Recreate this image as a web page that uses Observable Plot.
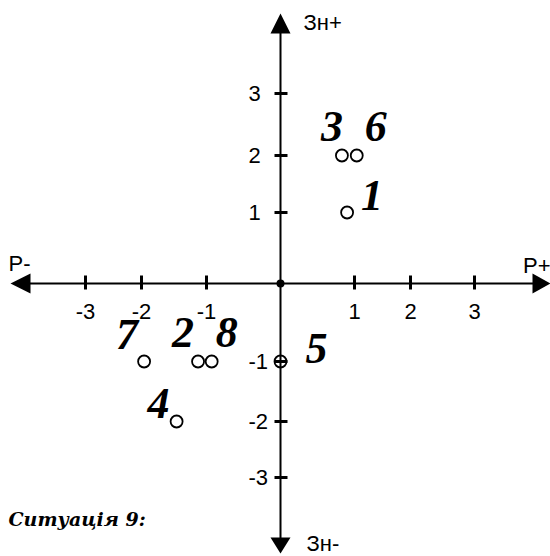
<!DOCTYPE html>
<html>
<head>
<meta charset="utf-8">
<script src="https://cdn.jsdelivr.net/npm/d3@7"></script>
<script src="https://cdn.jsdelivr.net/npm/@observablehq/plot@0.6"></script>
<style>
  html, body { margin: 0; padding: 0; background: #fff; }
  #chart svg { display: block; }
</style>
</head>
<body>
<div id="chart"></div>
<script>
// ---- data ----
const pointIds = ["1", "2", "3", "4", "5", "6", "7", "8"];
const pointX   = [0.90, -1.13, 0.83, -1.46, 0, 1.04, -1.96, -0.93];
const pointY   = [1, -1, 2, -2, -1, 2, -1, -1];

const tickValues = [-3, -2, -1, 1, 2, 3];
const tickLabels = ["-3", "-2", "-1", "1", "2", "3"];

const axisNames = { xNeg: "P-", xPos: "P+", yPos: "Зн+", yNeg: "Зн-" };
const caption = "Ситуація 9:";

// ---- layout (not data): the hand-drawn axes have slightly uneven unit spacing ----
const scaleDomain = [-3, -2, -1, 0, 1, 2, 3];
const xRange = [85, 141, 206, 280, 354, 410, 474];
const yRange = [477, 421, 361, 283, 212, 155, 93];
const warp = (rangePx) => {
  const a = rangePx[0], b = rangePx[rangePx.length - 1];
  return d3.scaleLinear().domain(scaleDomain).range(rangePx.map(p => -3 + 6 * (p - a) / (b - a)));
};
const warpX = warp(xRange), warpY = warp(yRange);

const labelOffsets = {
  "1": [25, -17], "2": [-15, -29], "3": [-10, -29], "4": [-18, -18],
  "5": [36, -13], "6": [19, -29], "7": [-17, -27], "8": [15, -29]
};

const points = pointIds.map((id, i) => ({id, x: pointX[i], y: pointY[i]}));
const ticks = tickValues.map((v, i) => ({v, label: tickLabels[i]}));

const sym = (f) => ({draw(ctx) { f(ctx); }});
const xTickSym = sym(c => { c.moveTo(0, -8); c.lineTo(0, 6); });
const yTickSym = sym(c => { c.moveTo(-6, 0); c.lineTo(7, 0); });
const upSym = sym(c => { c.moveTo(0, -10); c.lineTo(10, 10); c.lineTo(-10, 10); c.closePath(); });
const downSym = sym(c => { c.moveTo(0, 8); c.lineTo(10, -8); c.lineTo(-10, -8); c.closePath(); });
const leftSym = sym(c => { c.moveTo(-10, 0); c.lineTo(10, -10); c.lineTo(10, 10); c.closePath(); });
const rightSym = sym(c => { c.moveTo(9, 0); c.lineTo(-9, -10); c.lineTo(-9, 10); c.closePath(); });

const sansFont = "Liberation Sans, Arial, sans-serif";
const numFont = {fontFamily: "Liberation Serif, Times New Roman, serif", fontWeight: "bold", fontStyle: "italic", fontSize: 44};

const labelMarks = points.map(p => Plot.text([p], {
  x: "x", y: "y", text: "id",
  dx: labelOffsets[p.id][0], dy: labelOffsets[p.id][1],
  ...numFont, fill: "black", lineAnchor: "middle"
}));

const chart = Plot.plot({
  width: 550,
  height: 556,
  marginTop: 0, marginBottom: 0, marginLeft: 0, marginRight: 0,
  style: {background: "white", fontFamily: sansFont, overflow: "visible"},
  x: {transform: warpX, domain: [-3, 3], range: [xRange[0], xRange[6]], axis: null},
  y: {transform: warpY, domain: [-3, 3], range: [yRange[0], yRange[6]], axis: null},
  marks: [
    // axes lines
    Plot.ruleX([0], {x: d => d, insetTop: 30, insetBottom: 12, stroke: "black", strokeWidth: 2}),
    Plot.ruleY([0], {y: d => d, insetLeft: 20, insetRight: 12, stroke: "black", strokeWidth: 2}),
    // arrows
    Plot.dot([0], {x: d => d, frameAnchor: "top", dy: 23, symbol: upSym, fill: "black", stroke: "none"}),
    Plot.dot([0], {x: d => d, frameAnchor: "bottom", dy: -11, symbol: downSym, fill: "black", stroke: "none"}),
    Plot.dot([0], {y: d => d, frameAnchor: "left", dx: 20, symbol: leftSym, fill: "black", stroke: "none"}),
    Plot.dot([0], {y: d => d, frameAnchor: "right", dx: -9, symbol: rightSym, fill: "black", stroke: "none"}),
    // ticks
    Plot.dot(ticks, {x: "v", y: () => 0, symbol: xTickSym, fill: "none", stroke: "black", strokeWidth: 3}),
    Plot.dot(ticks, {x: () => 0, y: "v", symbol: yTickSym, fill: "none", stroke: "black", strokeWidth: 3}),
    // tick labels
    Plot.text(ticks, {x: "v", y: () => 0, text: "label", dy: 28, fontSize: 22, fontFamily: sansFont, fill: "black", lineAnchor: "middle"}),
    Plot.text(ticks, {x: () => 0, y: "v", text: "label", dx: -32, textAnchor: "start", fontSize: 22, fontFamily: sansFont, fill: "black", lineAnchor: "middle"}),
    // axis names
    Plot.text([axisNames.yPos], {x: () => 0, text: d => d, frameAnchor: "top", dx: 23, dy: 22, textAnchor: "start", lineAnchor: "middle", fontSize: 22, fontFamily: sansFont, fill: "black"}),
    Plot.text([axisNames.yNeg], {x: () => 0, text: d => d, frameAnchor: "bottom", dx: 26, dy: -13, textAnchor: "start", lineAnchor: "middle", fontSize: 22, fontFamily: sansFont, fill: "black"}),
    Plot.text([axisNames.xNeg], {y: () => 0, text: d => d, frameAnchor: "left", dx: 8, dy: -20, textAnchor: "start", lineAnchor: "middle", fontSize: 22, fontFamily: sansFont, fill: "black"}),
    Plot.text([axisNames.xPos], {y: () => 0, text: d => d, frameAnchor: "right", dx: 0, dy: -18, textAnchor: "end", lineAnchor: "middle", fontSize: 22, fontFamily: sansFont, fill: "black"}),
    // origin
    Plot.dot([0], {x: d => d, y: d => d, r: 4, fill: "black", stroke: "none"}),
    // points
    Plot.dot(points, {x: "x", y: "y", r: 6, fill: "none", stroke: "black", strokeWidth: 1.8}),
    ...labelMarks,
    // caption
    Plot.text([caption], {text: d => d, frameAnchor: "bottom-left", dx: 8, dy: -37, textAnchor: "start", lineAnchor: "middle",
      fontFamily: "DejaVu Serif, serif", fontWeight: "bold", fontStyle: "italic", fontSize: 19, fill: "black"})
  ]
});
document.getElementById("chart").appendChild(chart);
</script>
</body>
</html>
